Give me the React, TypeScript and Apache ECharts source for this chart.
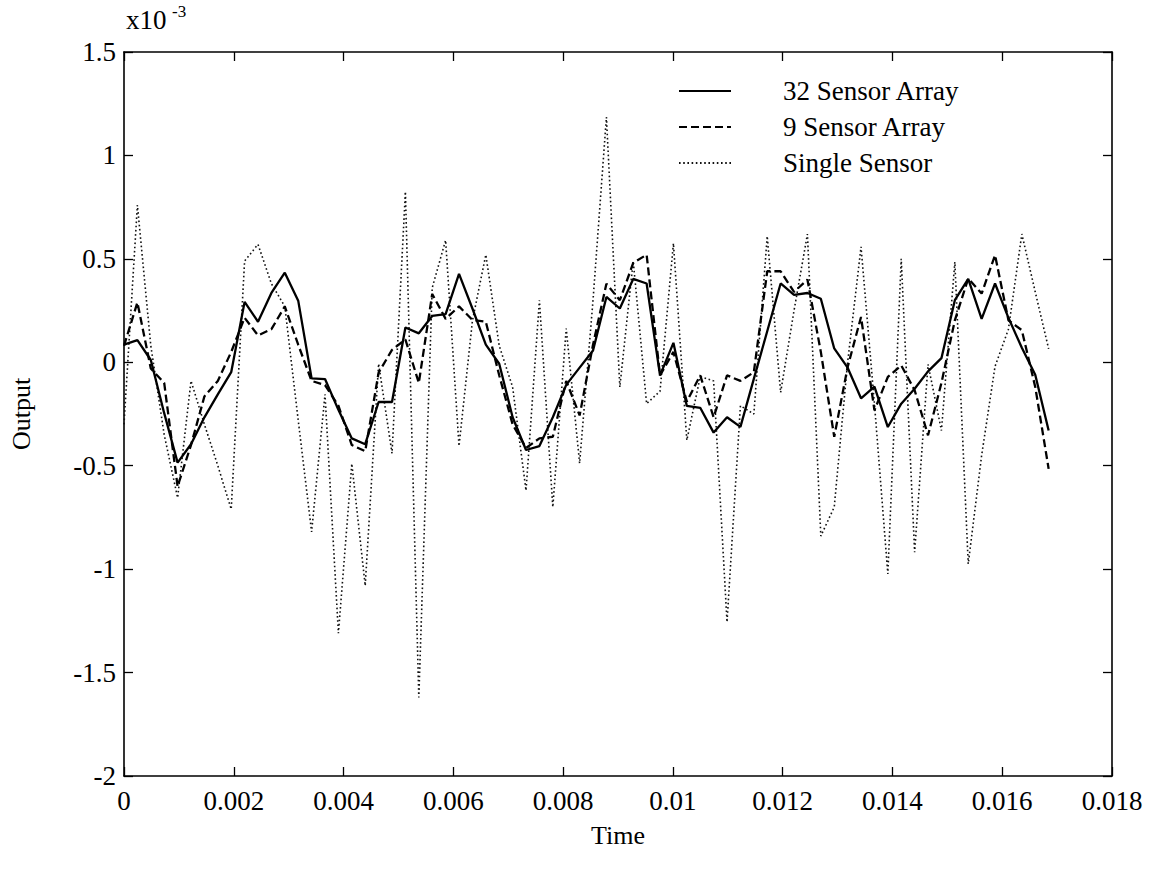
import React, { useEffect, useRef } from "react";
import * as echarts from "echarts";

// Sampling rate of the recorded signals (samples per second)
const SAMPLE_RATE = 4096;

// Output values, in units of 1e-3
const array32: number[] = [
  0.085, 0.107, 0.011, -0.246, -0.485, -0.396, -0.266, -0.155, -0.048, 0.292,
  0.196, 0.335, 0.433, 0.298, -0.078, -0.081, -0.23, -0.368, -0.396, -0.192,
  -0.192, 0.168, 0.14, 0.224, 0.233, 0.427, 0.26, 0.085, -0.007, -0.266,
  -0.424, -0.405, -0.266, -0.109, -0.026, 0.057, 0.316, 0.26, 0.403, 0.381,
  -0.063, 0.094, -0.211, -0.22, -0.34, -0.266, -0.312, -0.08, 0.15, 0.381,
  0.326, 0.335, 0.307, 0.067, -0.026, -0.174, -0.118, -0.313, -0.2, -0.128,
  -0.044, 0.02, 0.3, 0.403, 0.21, 0.381, 0.215, 0.07, -0.06, -0.33,
];

const array9: number[] = [
  0.08, 0.289, -0.03, -0.1, -0.6, -0.4, -0.165, -0.09, 0.05, 0.215,
  0.13, 0.16, 0.27, 0.085, -0.09, -0.11, -0.21, -0.4, -0.43, -0.05,
  0.06, 0.11, -0.1, 0.33, 0.21, 0.27, 0.205, 0.196, -0.063, -0.3,
  -0.414, -0.368, -0.36, -0.09, -0.257, 0.085, 0.38, 0.3, 0.48, 0.52,
  -0.063, 0.05, -0.19, -0.063, -0.266, -0.063, -0.09, -0.048, 0.44, 0.44,
  0.34, 0.4, 0.05, -0.36, -0.023, 0.219, -0.232, -0.071, -0.015, -0.135,
  -0.353, -0.1, 0.203, 0.405, 0.332, 0.518, 0.203, 0.155, -0.119, -0.515,
];

const singleSensor: number[] = [
  -0.3, 0.76, 0.08, -0.35, -0.655, -0.09, -0.3, -0.5, -0.71, 0.49,
  0.57, 0.38, 0.27, -0.28, -0.82, -0.155, -1.31, -0.49, -1.08, -0.007,
  -0.44, 0.825, -1.62, 0.36, 0.59, -0.405, 0.2, 0.52, 0.08, -0.12,
  -0.62, 0.3, -0.7, 0.163, -0.488, 0.3, 1.185, -0.12, 0.49, -0.2,
  -0.14, 0.575, -0.377, -0.07, -0.09, -1.256, -0.21, -0.25, 0.61, -0.146,
  0.25, 0.62, -0.84, -0.7, 0.0, 0.558, -0.2, -1.023, 0.5, -0.918,
  -0.01, -0.33, 0.485, -0.975, -0.45, -0.02, 0.16, 0.62, 0.34, 0.065,
];

const seriesNames = ["32 Sensor Array", "9 Sensor Array", "Single Sensor"];

const FONT = "Liberation Serif";

const toPairs = (vals: number[]) => vals.map((v, i) => [i / SAMPLE_RATE, v]);

export default function App() {
  const ref = useRef<HTMLDivElement>(null);
  useEffect(() => {
    if (!ref.current) return;
    const chart = echarts.init(ref.current, undefined, { renderer: "svg" });
    const axisLine = { show: true, onZero: false, lineStyle: { color: "#000", width: 1.6 } };
    const tick = { show: true, inside: true, length: 9, lineStyle: { color: "#000", width: 1.3 } };
    chart.setOption({
      animation: false,
      backgroundColor: "#fff",
      grid: { left: 124, right: 42, top: 52, bottom: 103, containLabel: false },
      legend: {
        orient: "vertical",
        left: 673,
        top: 72,
        itemWidth: 52,
        itemHeight: 14,
        itemGap: 8,
        itemStyle: { opacity: 0 },
        textStyle: { fontFamily: FONT, fontSize: 27, color: "#000", lineHeight: 28, padding: [0, 0, 0, 47] },
        data: seriesNames,
      },
      xAxis: [
        {
          type: "value",
          min: 0,
          max: 0.018,
          interval: 0.002,
          name: "Time",
          nameLocation: "middle",
          nameGap: 46,
          nameTextStyle: { fontFamily: FONT, fontSize: 26, color: "#000" },
          axisLine,
          axisTick: tick,
          splitLine: { show: false },
          axisLabel: {
            fontFamily: FONT,
            fontSize: 27,
            color: "#000",
            margin: 11,
            formatter: (v: number) => String(parseFloat(v.toFixed(4))),
          },
        },
        {
          type: "value",
          position: "top",
          min: 0,
          max: 0.018,
          interval: 0.002,
          axisLine,
          axisTick: tick,
          axisLabel: { show: false },
          splitLine: { show: false },
        },
      ],
      yAxis: [
        {
          type: "value",
          min: -2,
          max: 1.5,
          interval: 0.5,
          name: "Output",
          nameLocation: "middle",
          nameGap: 90,
          nameTextStyle: { fontFamily: FONT, fontSize: 26, color: "#000" },
          axisLine,
          axisTick: tick,
          splitLine: { show: false },
          axisLabel: { fontFamily: FONT, fontSize: 27, color: "#000", margin: 8 },
        },
        {
          type: "value",
          position: "right",
          min: -2,
          max: 1.5,
          interval: 0.5,
          axisLine,
          axisTick: tick,
          axisLabel: { show: false },
          splitLine: { show: false },
        },
      ],
      graphic: [
        { type: "text", left: 126, top: 6, style: { text: "x10", fontFamily: FONT, fontSize: 27, fill: "#000" } },
        { type: "text", left: 172, top: 3, style: { text: "-3", fontFamily: FONT, fontSize: 17, fill: "#000" } },
      ],
      series: [
        {
          name: seriesNames[0],
          type: "line",
          data: toPairs(array32),
          symbol: "none",
          lineStyle: { color: "#000", width: 2.3, type: "solid" },
          itemStyle: { color: "#000" },
          z: 4,
        },
        {
          name: seriesNames[1],
          type: "line",
          data: toPairs(array9),
          symbol: "none",
          lineStyle: { color: "#000", width: 2.3, type: [8, 4] },
          itemStyle: { color: "#000" },
          z: 3,
        },
        {
          name: seriesNames[2],
          type: "line",
          data: toPairs(singleSensor),
          symbol: "none",
          lineStyle: { color: "#111", width: 1.6, type: [1.6, 2.6] },
          itemStyle: { color: "#111" },
          z: 2,
        },
      ],
    });
    return () => chart.dispose();
  }, []);
  return (
    <div
      ref={ref}
      style={{ position: "fixed", left: 0, top: 0, width: 1154, height: 879, background: "#fff" }}
    />
  );
}
